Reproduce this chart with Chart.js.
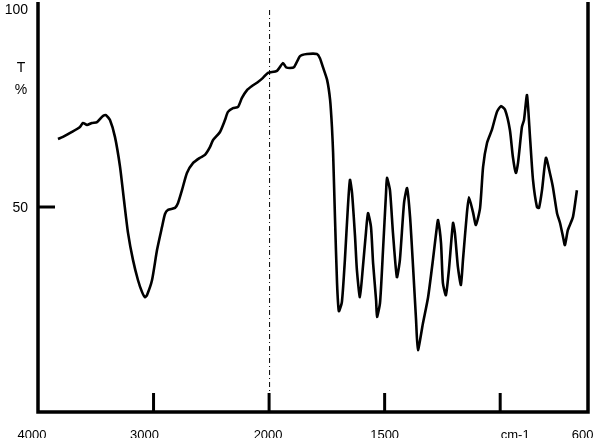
<!DOCTYPE html>
<html><head><meta charset="utf-8">
<script src="https://cdn.jsdelivr.net/npm/chart.js@4/dist/chart.umd.min.js"></script>
<style>html,body{margin:0;padding:0;background:#fff;overflow:hidden}#wrap{width:600px;height:438px}</style>
</head><body><div id="wrap"><canvas id="c" width="600" height="438"></canvas></div>
<script>
// IR spectrum: wavenumber (cm-1) and transmittance (%T)
const wavenumbers = [3827,3784,3706,3637,3611,3576,3533,3489,3438,3412,
3377,3334,3290,3256,3221,3178,3135,3100,3074,3057,
3013,2970,2927,2901,2875,2814,2788,2754,2711,2659,
2598,2555,2512,2486,2425,2382,2356,2312,2269,2235,
2191,2148,2096,2053,2010,1966,1940,1927,1910,1892,
1866,1836,1793,1780,1767,1749,1736,1728,1723,1715,
1706,1698,1685,1672,1659,1650,1641,1628,1620,1607,
1594,1581,1572,1559,1550,1537,1533,1520,1507,1494,
1490,1477,1464,1447,1434,1416,1403,1390,1377,1364,
1356,1334,1312,1291,1273,1269,1256,1248,1235,1222,
1204,1196,1183,1170,1161,1144,1135,1118,1105,1087,
1074,1057,1036,1014,997,979,958,945,932,923,
906,897,884,871,858,841,832,819,802,785,
772,754,741,728,720,707,685,668];
const transmittance = [66.6,67.1,68.3,69.5,70.5,70.0,70.5,70.7,72.2,72.4,
71.2,67.1,59.8,51.7,43.7,37.1,32.2,29.3,28.0,28.5,
32.2,39.5,45.1,48.3,49.3,49.8,51.0,54.1,58.3,60.7,
62.0,62.7,64.6,66.3,68.3,71.2,73.2,74.1,74.4,76.6,
78.5,79.5,80.5,81.5,82.7,83.2,85.1,84.1,83.9,84.1,
86.8,87.3,87.3,86.3,84.1,81.0,76.1,69.5,63.2,47.6,
31.5,24.6,26.8,37.1,50.0,56.6,53.4,42.7,34.6,28.0,
35.4,43.7,48.5,45.1,36.3,27.3,23.2,26.6,39.5,53.4,
57.1,54.1,43.7,32.9,37.1,51.0,54.6,47.6,35.4,22.4,
15.1,21.7,28.0,37.1,45.6,46.8,41.2,31.5,28.5,34.6,
46.1,43.7,35.4,31.0,37.1,48.5,52.4,48.8,45.6,49.8,
59.8,65.6,68.8,73.2,74.6,73.7,68.8,62.2,58.3,60.7,
69.5,71.2,77.3,67.1,56.6,50.0,49.8,54.1,62.0,58.3,
54.9,48.5,46.1,42.7,40.7,44.4,47.6,54.1];
const xTickValues = [4000,3000,2000,1500,1000,600];
const xTickLabels = ['4000','3000','2000','1500','cm-1','600'];
const yTickValues = [100,50];
const yTickLabels = ['100','50'];
const yAxisTitle = ['T','%'];
const xStart = 4000, xEnd = 620, yMin = 0, yMax = 100;

// Split wavenumber scale: 1000 cm-1 per unit above 2000, 500 cm-1 per unit below
function toU(w){ return w >= 2000 ? (4000 - w) / 1000 : 2 + (2000 - w) / 500; }

const points = wavenumbers.map((w, i) => ({x: toU(w), y: transmittance[i]}));

const axesPlugin = {
  id: 'irAxes',
  afterDraw(chart){
    const ctx = chart.ctx, ca = chart.chartArea;
    const sx = chart.scales.x, sy = chart.scales.y;
    ctx.save();
    ctx.strokeStyle = '#000';
    ctx.fillStyle = '#000';
    // dotted divider at 2000
    const xd = sx.getPixelForValue(toU(2000));
    ctx.lineWidth = 1;
    ctx.setLineDash([5,3,1,3]);
    ctx.beginPath(); ctx.moveTo(xd + 0.5, ca.top + 8); ctx.lineTo(xd + 0.5, ca.bottom - 18); ctx.stroke();
    ctx.setLineDash([]);
    // axes frame (left, bottom, right)
    ctx.lineWidth = 3.5;
    ctx.beginPath();
    ctx.moveTo(ca.left, ca.top); ctx.lineTo(ca.left, ca.bottom + 1.75);
    ctx.moveTo(ca.left - 1.75, ca.bottom); ctx.lineTo(ca.right + 1.75, ca.bottom);
    ctx.moveTo(ca.right, ca.bottom); ctx.lineTo(ca.right, ca.top);
    ctx.stroke();
    // inner ticks on x axis
    ctx.lineWidth = 3;
    xTickValues.forEach(v => {
      if (v >= xStart || v <= xEnd) return;
      const px = sx.getPixelForValue(toU(v));
      ctx.beginPath(); ctx.moveTo(px, ca.bottom); ctx.lineTo(px, ca.bottom - 19); ctx.stroke();
    });
    // inner tick on y axis
    yTickValues.forEach(v => {
      if (v >= yMax) return;
      const py = sy.getPixelForValue(v);
      ctx.beginPath(); ctx.moveTo(ca.left, py); ctx.lineTo(ca.left + 17, py); ctx.stroke();
    });
    // x labels
    ctx.font = '13px "Liberation Sans", Arial, sans-serif';
    ctx.textAlign = 'center';
    ctx.textBaseline = 'alphabetic';
    const dx = [-6, -9, -1, 0, 15, -10];
    xTickValues.forEach((v, i) => {
      const px = Math.min(sx.getPixelForValue(toU(v)), 600);
      ctx.fillText(xTickLabels[i], px + dx[i], 439);
    });
    // y labels
    ctx.font = '14px "Liberation Sans", Arial, sans-serif';
    ctx.textAlign = 'right';
    yTickValues.forEach((v, i) => {
      const py = sy.getPixelForValue(v);
      ctx.fillText(yTickLabels[i], 28, Math.max(py, 9) + 5);
    });
    ctx.textAlign = 'center';
    ctx.fillText(yAxisTitle[0], 21, 72);
    ctx.fillText(yAxisTitle[1], 21, 94);
    ctx.restore();
  }
};

new Chart(document.getElementById('c'), {
  type: 'line',
  data: { datasets: [{
    data: points,
    borderColor: '#000',
    borderWidth: 2.6,
    pointRadius: 0,
    tension: 0.2,
    fill: false
  }]},
  options: {
    responsive: false,
    animation: false,
    devicePixelRatio: 1,
    layout: { padding: { left: 38, right: 12, top: 2, bottom: 26 } },
    plugins: { legend: { display: false }, tooltip: { enabled: false }, title: { display: false } },
    scales: {
      x: { type: 'linear', min: toU(xStart), max: toU(xEnd), display: false },
      y: { type: 'linear', min: yMin, max: yMax, display: false }
    }
  },
  plugins: [axesPlugin]
});
</script>
</body></html>
